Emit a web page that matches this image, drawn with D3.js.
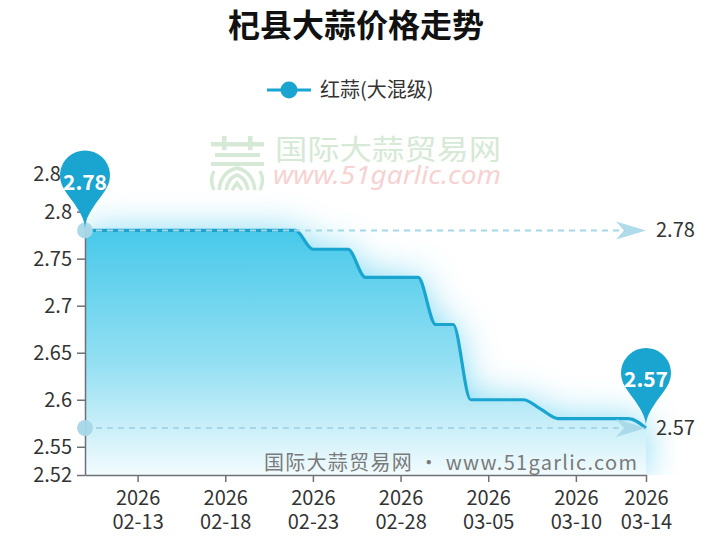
<!DOCTYPE html>
<html><head><meta charset="utf-8">
<script src="https://cdn.jsdelivr.net/npm/d3@7"></script>
<style>
html,body{margin:0;padding:0;background:#fff;}
svg{display:block;font-family:"Noto Sans CJK SC","Noto Sans",sans-serif;}
</style></head>
<body><svg id="c" width="709" height="553"></svg>
<script>
// ---- data ----
const title = "杞县大蒜价格走势";
const seriesName = "红蒜(大混级)";
const dates = ["2026-02-10","2026-02-11","2026-02-12","2026-02-13","2026-02-14","2026-02-15","2026-02-16","2026-02-17","2026-02-18","2026-02-19","2026-02-20","2026-02-21","2026-02-22","2026-02-23","2026-02-24","2026-02-25","2026-02-26","2026-02-27","2026-02-28","2026-03-01","2026-03-02","2026-03-03","2026-03-04","2026-03-05","2026-03-06","2026-03-07","2026-03-08","2026-03-09","2026-03-10","2026-03-11","2026-03-12","2026-03-13","2026-03-14"];
const prices = [2.78,2.78,2.78,2.78,2.78,2.78,2.78,2.78,2.78,2.78,2.78,2.78,2.78,2.76,2.76,2.76,2.73,2.73,2.73,2.73,2.68,2.68,2.60,2.60,2.60,2.60,2.59,2.58,2.58,2.58,2.58,2.58,2.57];
const xTickDates = ["2026-02-13","2026-02-18","2026-02-23","2026-02-28","2026-03-05","2026-03-10","2026-03-14"];
const yTickValues = [2.52,2.55,2.6,2.65,2.7,2.75,2.8,2.84];
const yTickLabels = ["2.52","2.55","2.6","2.65","2.7","2.75","2.8","2.84"];
const markLineValues = [2.78,2.57];
const markPointLabels = ["2.78","2.57"];
const watermarkCN = "国际大蒜贸易网";
const watermarkURL = "www.51garlic.com";
const footerText = "国际大蒜贸易网 • www.51garlic.com";

// ---- setup ----
const svg = d3.select("#c");
const parse = d3.timeParse("%Y-%m-%d");
const data = dates.map((d,i)=>({date:parse(d), v:prices[i]}));
const L=85, R=646, T=174, B=475;
const x = d3.scaleTime().domain([parse(dates[0]), parse(dates[dates.length-1])]).range([L,R]);
const y = d3.scaleLinear().domain([2.52,2.84]).range([B,T]);
const lineColor = "#19a5cf";
const FONT = '"Noto Sans CJK SC","Noto Sans",sans-serif';

const defs = svg.append("defs");
const grad = defs.append("linearGradient").attr("id","ag").attr("gradientUnits","userSpaceOnUse")
  .attr("x1",0).attr("x2",0).attr("y1",y(2.78)).attr("y2",B);
grad.append("stop").attr("offset",0).attr("stop-color","#48c9ea").attr("stop-opacity",1);
grad.append("stop").attr("offset",0.55).attr("stop-color","#48c9ea").attr("stop-opacity",0.58);
grad.append("stop").attr("offset",1).attr("stop-color","#48c9ea").attr("stop-opacity",0.07);
defs.append("filter").attr("id","blur").attr("x","-20%").attr("y","-30%").attr("width","140%").attr("height","160%")
  .append("feGaussianBlur").attr("stdDeviation",18);
defs.append("clipPath").attr("id","plotclip").append("rect").attr("x",L).attr("y",100).attr("width",R-L+30).attr("height",B-100);

// title
svg.append("text").attr("x",356).attr("y",37).attr("text-anchor","middle")
  .attr("font-size",32).attr("font-weight","bold").attr("fill","#111").attr("font-family",FONT).text(title);

// legend
const lg = svg.append("g");
lg.append("line").attr("x1",267).attr("x2",311).attr("y1",90).attr("y2",90).attr("stroke",lineColor).attr("stroke-width",3);
lg.append("circle").attr("cx",289).attr("cy",90).attr("r",8.5).attr("fill",lineColor);
lg.append("text").attr("x",320).attr("y",90).attr("dy","0.35em").attr("font-size",20).attr("fill","#333").attr("font-family",FONT).text(seriesName);

// top watermark
const wc = "#d6e9d6";
const wm = svg.append("g").attr("fill",wc);
wm.append("rect").attr("x",211).attr("y",142).attr("width",53).attr("height",4.5);
wm.append("rect").attr("x",222).attr("y",136).attr("width",4.5).attr("height",14);
wm.append("rect").attr("x",248).attr("y",136).attr("width",4.5).attr("height",14);
wm.append("rect").attr("x",215).attr("y",153).attr("width",45).attr("height",4);
wm.append("rect").attr("x",211).attr("y",162).attr("width",53).attr("height",4);
wm.append("path").attr("fill","none").attr("stroke",wc).attr("stroke-width",3.5)
  .attr("d","M219,190 Q221,172 237,168 Q253,172 255,190 M226,190 Q228,178 237,175 Q246,178 248,190 M232,190 L237,183 L242,190");
wm.append("path").attr("fill","none").attr("stroke",wc).attr("stroke-width",3.5)
  .attr("d","M214,171 Q209,180 214,190 M260,171 Q265,180 260,190");
svg.append("text").attr("x",275).attr("y",160).attr("font-size",28).attr("textLength",226).attr("lengthAdjust","spacingAndGlyphs").attr("fill",wc).attr("font-family",FONT).text(watermarkCN);
svg.append("text").attr("x",273).attr("y",184).attr("font-size",25).attr("font-style","italic").attr("textLength",228).attr("lengthAdjust","spacingAndGlyphs").attr("fill","#f6d2d2").attr("font-family",'"Noto Sans",sans-serif').text(watermarkURL);

// area + glow
const area = d3.area().x(d=>x(d.date)).y0(B).y1(d=>y(d.v)).curve(d3.curveMonotoneX);
const line = d3.line().x(d=>x(d.date)).y(d=>y(d.v)).curve(d3.curveMonotoneX);
const pg = svg.append("g").attr("clip-path","url(#plotclip)");
pg.append("path").datum(data).attr("d",area).attr("fill","#55cdee").attr("opacity",0.75).attr("filter","url(#blur)");
pg.append("path").datum(data).attr("d",area).attr("fill","#ffffff").attr("opacity",1);
pg.append("path").datum(data).attr("d",area).attr("fill","url(#ag)");

// footer watermark
svg.append("text").attr("x",264).attr("y",463).attr("dy","0.35em").attr("font-size",20).attr("textLength",373).attr("fill","#7a7a7a").attr("font-family",FONT).text(footerText);

// line
svg.append("path").datum(data).attr("d",line).attr("fill","none").attr("stroke",lineColor).attr("stroke-width",3.2).attr("stroke-linejoin","round");

// axes
const yAxis = d3.axisLeft(y).tickValues(yTickValues).tickSize(8).tickSizeOuter(0)
  .tickFormat((d,i)=>yTickLabels[i]);
const ya = svg.append("g").attr("transform",`translate(${L},0)`).call(yAxis);
ya.select(".domain").attr("stroke","#6e7079").attr("stroke-width",1.5);
ya.selectAll(".tick line").attr("stroke","#6e7079").attr("stroke-width",1.5);
ya.selectAll(".tick text").attr("font-size",20).attr("fill","#333").attr("font-family",FONT).attr("x",-13);

const xAxis = d3.axisBottom(x).tickValues(xTickDates.map(parse)).tickSize(7).tickSizeOuter(0).tickFormat("");
const xa = svg.append("g").attr("transform",`translate(0,${B})`).call(xAxis);
xa.select(".domain").attr("stroke","#6e7079").attr("stroke-width",1.5);
xa.selectAll(".tick line").attr("stroke","#6e7079").attr("stroke-width",1.5);
const fy = d3.timeFormat("%Y"), fmd = d3.timeFormat("%m-%d");
xa.selectAll(".tick").each(function(d){
  const g = d3.select(this);
  g.append("text").attr("text-anchor","middle").attr("font-size",20).attr("fill","#333").attr("font-family",FONT)
    .attr("x",0).attr("y",30).text(fy(d));
  g.append("text").attr("text-anchor","middle").attr("font-size",20).attr("fill","#333").attr("font-family",FONT)
    .attr("x",0).attr("y",54).text(fmd(d));
});

// mark lines
const mlColor = "#a6d7e8";
markLineValues.forEach(v=>{
  const yy = y(v);
  svg.append("line").attr("x1",L).attr("x2",R-20).attr("y1",yy).attr("y2",yy)
    .attr("stroke",mlColor).attr("stroke-width",2).attr("stroke-dasharray","6,5");
  svg.append("path").attr("d",`M${R},${yy} L${R-30},${yy-9} L${R-22},${yy} L${R-30},${yy+9} Z`).attr("fill",mlColor).attr("opacity",0.9);
  svg.append("circle").attr("cx",L).attr("cy",yy).attr("r",8).attr("fill",mlColor).attr("opacity",0.95);
  svg.append("text").attr("x",R+10).attr("y",yy).attr("dy","0.35em").attr("font-size",20).attr("fill","#333").attr("font-family",FONT).text(d3.format(".2f")(v));
});

// mark points (pins)
const pins = [data[0], data[data.length-1]];
pins.forEach((d,i)=>{
  const px = x(d.date), py = y(d.v);
  const r = 25, cy = py-55, tip = py-2;
  const a = Math.asin(0.55);
  const dx = Math.cos(a)*r, dy = Math.sin(a)*r;
  const p = `M${px-dx},${cy+dy} A${r},${r} 0 1 1 ${px+dx},${cy+dy} C${px+dx-6},${cy+dy+10} ${px},${tip-14} ${px},${tip} C${px},${tip-14} ${px-dx+6},${cy+dy+10} ${px-dx},${cy+dy} Z`;
  svg.append("path").attr("d",p).attr("fill",lineColor);
  svg.append("text").attr("x",px).attr("y",py-48).attr("dy","0.35em").attr("text-anchor","middle")
    .attr("font-size",21).attr("font-weight","bold").attr("fill","#fff").attr("font-family",FONT).text(markPointLabels[i]);
});
</script>
</body></html>
